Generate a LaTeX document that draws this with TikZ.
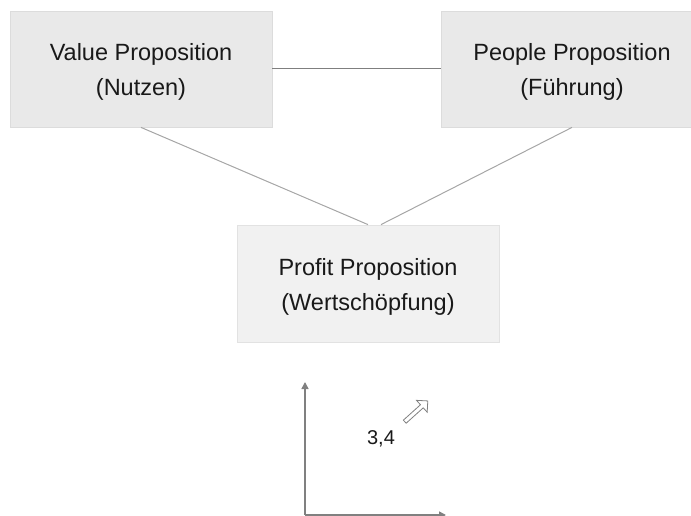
\documentclass[tikz,border=0pt]{standalone}
\usepackage{fontspec}
\setmainfont{Liberation Sans}
\usetikzlibrary{shapes.arrows,arrows.meta}
\definecolor{boxfill}{HTML}{E9E9E9}
\definecolor{boxline}{HTML}{DCDCDC}
\definecolor{pfill}{HTML}{F1F1F1}
\definecolor{pline}{HTML}{E2E2E2}
\definecolor{darkline}{HTML}{7F7F7F}
\definecolor{lightline}{HTML}{A6A6A6}
\definecolor{axiscol}{HTML}{808080}
\tikzset{
  propbox/.style={draw=boxline, fill=boxfill, line width=0.8pt, minimum width=262pt, minimum height=116pt, inner sep=0pt},
  proptext/.style={align=center, font=\fontsize{23.5pt}{35pt}\selectfont, text=black!90},
  conn/.style={line width=1pt},
  axis/.style={draw=axiscol, line width=1.5pt, -{Triangle[length=7pt,width=7pt]}},
}
\begin{document}
\begin{tikzpicture}[x=1pt,y=-1pt]
\useasboundingbox (0,0) rectangle (691,516);
\node[propbox] (value) at (141,69) {};
\node[propbox] (people) at (572,69) {};
\node[propbox, draw=pline, fill=pfill, minimum height=117pt] (profit) at (368,283.5) {};
\node[proptext] (valuet) at ([yshift=-3pt]value.center) {Value Proposition\\(Nutzen)};
\node[proptext] (peoplet) at ([yshift=-3pt]people.center) {People Proposition\\(Führung)};
\node[proptext] (profitt) at ([yshift=-3pt]profit.center) {Profit Proposition\\(Wertschöpfung)};
\draw[conn, draw=darkline] (value.east) -- (people.west);
\draw[conn, draw=lightline] (value.south) -- (profit.north);
\draw[conn, draw=lightline] (people.south) -- ([xshift=13pt]profit.north);
\coordinate (origin) at (305,515);
\coordinate (ytip) at (305,382);
\coordinate (xtip) at (446,515);
\draw[axis] (origin) -- (ytip);
\draw[axis] (origin) -- (xtip);
\node[font=\fontsize{20pt}{24pt}\selectfont, text=black!90] (lab) at (381,439) {3,4};
\node[single arrow, draw=axiscol, fill=white, line width=0.8pt, rotate=42, minimum height=31pt, minimum width=16pt, single arrow head extend=4pt, single arrow head indent=0pt, inner sep=1pt] (dir) at (415.5,412) {};
\end{tikzpicture}
\end{document}
